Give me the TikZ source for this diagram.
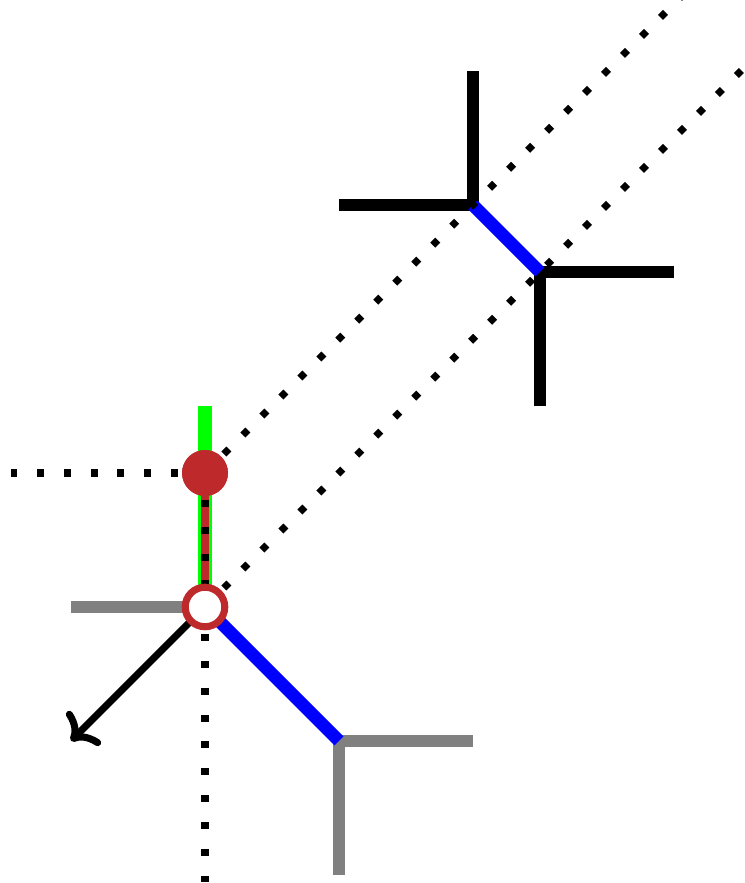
\documentclass[tikz,border=0pt]{standalone}
\usetikzlibrary{arrows.meta}
\definecolor{brick}{RGB}{190,42,44}
\definecolor{lgreen}{RGB}{0,255,0}
\begin{document}
\begin{tikzpicture}
        \useasboundingbox(-3.06,-4.12)rectangle(8.06,9.06);
        \coordinate(o)at(0,0);
        \coordinate(g)at(2,-2);
        \coordinate(a)at(4,6);
        \coordinate(b)at(5,5);
        \draw[lgreen,line width=6pt](o)--(0,3);
        \draw[brick,line width=3.4pt](o)--(0,2);
        \draw[gray,line width=5.4pt](-2,0)--(o);
        \draw[gray,line width=5.4pt](4,-2)--(g)--(2,-4);
        \draw[blue,line width=5.4pt](o)--(g);
        \draw[line width=5.4pt](2,6)--(a)--(4,8);
        \draw[line width=5.4pt](7,5)--(b)--(5,3);
        \draw[blue,line width=5.4pt](a)--(b);
        \node[circle,fill=brick,inner sep=0pt,minimum size=19.5pt](p)at(0,2){};
        \draw[line width=3pt,dash pattern=on 3pt off 8.4pt](p.center)--(-2.9,2);
        \draw[line width=3pt,dash pattern=on 3pt off 8.4pt](p.center)--(0,-4.1);
        \draw[line width=3pt,dash pattern=on 3pt off 8.4pt](p.center)--(7.1,9.1);
        \draw[line width=3pt,dash pattern=on 3pt off 8.4pt](o)--(8.1,8.1);
        \node[circle,fill=brick,inner sep=0pt,minimum size=19.5pt]at(p){};
        \draw[line width=3pt,-{To[length=9pt,width=20pt]}](o)--(-2.0,-2.0);
        \node[circle,draw=brick,fill=white,line width=3pt,inner sep=0pt,minimum size=16.8pt](q)at(o){};
    \end{tikzpicture}
\end{document}
